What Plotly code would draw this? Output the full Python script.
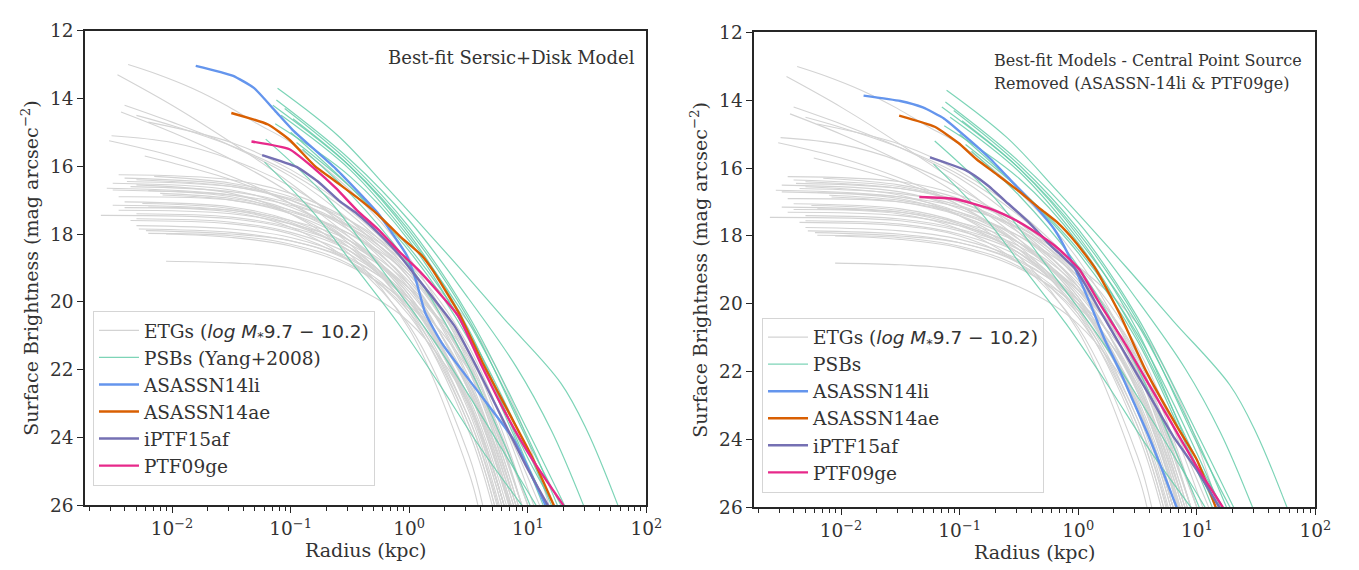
import plotly.graph_objects as go

# ---------------- data (x = log10 radius [kpc], y = surface brightness [mag arcsec^-2]) -------------
ETG_PROFILES = [
    [(-2.37, 13.0), (-2.13, 13.28), (-1.83, 13.7), (-1.53, 14.23), (-1.28, 14.75), (-1.0, 15.3), (-0.5, 16.7), (0.0, 18.7), (0.5, 21.8), (0.95, 26.0)],
    [(-2.46, 13.3), (-2.0, 14.2), (-1.5, 15.3), (-1.0, 16.5), (-0.5, 17.9), (0.0, 19.6), (0.5, 22.5), (0.85, 26.0)],
    [(-2.40, 14.2), (-2.0, 14.7), (-1.5, 15.4), (-1.0, 16.3), (-0.5, 17.6), (0.0, 19.3), (0.5, 22.3), (0.88, 26.0)],
    [(-2.43, 14.4), (-2.0, 15.0), (-1.5, 15.8), (-1.0, 16.8), (-0.5, 18.1), (0.0, 19.9), (0.5, 23.0), (0.80, 26.0)],
    [(-2.30, 14.5), (-2.0, 14.8), (-1.5, 15.4), (-1.0, 16.2), (-0.5, 17.4), (0.0, 19.1), (0.5, 21.9), (0.92, 26.0)],
    [(-2.20, 14.7), (-1.5, 15.3), (-1.0, 16.1), (-0.5, 17.3), (0.0, 19.0), (0.5, 21.7), (0.95, 26.0)],
    [(-2.51, 15.1), (-2.0, 15.3), (-1.5, 15.8), (-1.0, 16.6), (-0.5, 17.8), (0.0, 19.5), (0.5, 22.6), (0.85, 26.0)],
    [(-2.53, 15.25), (-2.0, 15.7), (-1.5, 16.3), (-1.0, 17.1), (-0.5, 18.3), (0.0, 20.1), (0.5, 23.4), (0.74, 26.0)],
    [(-2.23, 15.7), (-2.0, 15.9), (-1.5, 16.4), (-1.0, 17.1), (-0.5, 18.2), (0.0, 19.8), (0.5, 22.9), (0.80, 26.0)],
    [(-2.45, 16.25), (-1.5, 16.4), (-1.0, 16.8), (-0.5, 17.6), (0.0, 19.1), (0.5, 22.0), (0.90, 26.0)],
    [(-2.15, 16.3), (-1.5, 16.5), (-1.0, 16.9), (-0.5, 17.7), (0.0, 19.2), (0.5, 21.9), (0.92, 26.0)],
    [(-2.40, 16.35), (-1.5, 16.55), (-1.0, 17.0), (-0.5, 17.9), (0.0, 19.5), (0.5, 22.6), (0.84, 26.0)],
    [(-2.30, 16.4), (-1.5, 16.6), (-1.0, 17.0), (-0.5, 17.8), (0.0, 19.3), (0.5, 22.2), (0.88, 26.0)],
    [(-2.38, 16.45), (-1.5, 16.6), (-1.0, 16.95), (-0.5, 17.6), (0.0, 18.9), (0.5, 21.3), (1.05, 26.0)],
    [(-2.50, 16.5), (-1.5, 16.7), (-1.0, 17.2), (-0.5, 18.1), (0.0, 19.8), (0.5, 23.0), (0.78, 26.0)],
    [(-2.30, 16.55), (-1.5, 16.8), (-1.0, 17.4), (-0.5, 18.6), (0.0, 20.8), (0.5, 25.0), (0.58, 26.0)],
    [(-2.35, 16.6), (-1.5, 16.75), (-1.0, 17.1), (-0.5, 17.8), (0.0, 19.1), (0.5, 21.6), (0.95, 26.0)],
    [(-2.55, 16.65), (-1.5, 16.85), (-1.0, 17.3), (-0.5, 18.2), (0.0, 19.9), (0.5, 23.2), (0.76, 26.0)],
    [(-2.50, 16.7), (-1.5, 16.9), (-1.0, 17.4), (-0.5, 18.4), (0.0, 20.3), (0.5, 23.8), (0.70, 26.0)],
    [(-2.20, 16.72), (-1.5, 16.85), (-1.0, 17.15), (-0.5, 17.75), (0.0, 18.9), (0.5, 20.6), (0.9, 23.2), (1.18, 26.0)],
    [(-2.10, 16.8), (-1.5, 16.95), (-1.0, 17.3), (-0.5, 18.0), (0.0, 19.4), (0.5, 22.0), (0.90, 26.0)],
    [(-2.08, 16.85), (-1.5, 17.0), (-1.0, 17.4), (-0.5, 18.2), (0.0, 19.7), (0.5, 22.4), (0.86, 26.0)],
    [(-2.45, 16.9), (-1.5, 17.0), (-1.0, 17.35), (-0.5, 18.0), (0.0, 19.2), (0.5, 21.5), (1.00, 26.0)],
    [(-2.40, 17.05), (-1.5, 17.2), (-1.0, 17.6), (-0.5, 18.4), (0.0, 20.0), (0.5, 23.1), (0.78, 26.0)],
    [(-2.25, 17.1), (-1.5, 17.25), (-1.0, 17.65), (-0.5, 18.5), (0.0, 20.2), (0.5, 23.6), (0.72, 26.0)],
    [(-2.50, 17.15), (-1.5, 17.3), (-1.0, 17.7), (-0.5, 18.5), (0.0, 20.0), (0.5, 22.8), (0.82, 26.0)],
    [(-2.20, 17.2), (-1.5, 17.3), (-1.0, 17.6), (-0.5, 18.2), (0.0, 19.5), (0.5, 21.9), (0.95, 26.0)],
    [(-2.40, 17.22), (-1.5, 17.35), (-1.0, 17.8), (-0.5, 18.8), (0.0, 20.7), (0.5, 24.5), (0.62, 26.0)],
    [(-2.45, 17.3), (-1.5, 17.4), (-1.0, 17.7), (-0.5, 18.3), (0.0, 19.6), (0.5, 21.8), (1.00, 26.0)],
    [(-2.30, 17.4), (-1.5, 17.5), (-1.0, 17.8), (-0.5, 18.4), (0.0, 19.6), (0.5, 21.6), (1.10, 26.0)],
    [(-2.60, 17.45), (-1.5, 17.55), (-1.0, 17.85), (-0.5, 18.5), (0.0, 19.9), (0.5, 22.6), (0.84, 26.0)],
    [(-2.30, 17.55), (-1.5, 17.65), (-1.0, 17.95), (-0.5, 18.6), (0.0, 20.0), (0.5, 22.9), (0.80, 26.0)],
    [(-2.35, 17.6), (-1.5, 17.7), (-1.0, 18.0), (-0.5, 18.8), (0.0, 20.4), (0.5, 23.6), (0.72, 26.0)],
    [(-2.30, 17.75), (-1.5, 17.85), (-1.0, 18.1), (-0.5, 18.7), (0.0, 20.0), (0.5, 22.5), (0.86, 26.0)],
    [(-2.28, 17.85), (-1.5, 17.95), (-1.0, 18.2), (-0.5, 18.8), (0.0, 20.2), (0.5, 23.0), (0.80, 26.0)],
    [(-2.22, 17.9), (-1.5, 18.0), (-1.0, 18.2), (-0.5, 18.75), (0.0, 19.9), (0.5, 22.0), (1.00, 26.0)],
    [(-2.20, 17.98), (-1.5, 18.05), (-1.0, 18.3), (-0.5, 18.9), (0.0, 20.3), (0.5, 23.4), (0.75, 26.0)],
    [(-2.05, 18.0), (-1.5, 18.1), (-1.0, 18.35), (-0.5, 18.95), (0.0, 20.1), (0.5, 22.4), (0.90, 26.0)],
    [(-2.05, 18.8), (-1.5, 18.85), (-1.0, 19.0), (-0.5, 19.5), (0.0, 20.6), (0.5, 23.0), (0.80, 26.0)],
]

PSB_PROFILES = [
    [(-1.11, 13.70), (-0.6, 15.1), (-0.17, 16.7), (0.4, 18.9), (0.8, 20.5), (1.28, 22.4), (1.5, 23.8), (1.76, 26.0)],
    [(-1.12, 14.05), (-0.5, 15.8), (0.0, 17.6), (0.5, 19.9), (0.9, 21.9), (1.2, 23.8), (1.47, 26.0)],
    [(-1.05, 14.30), (-0.5, 15.9), (0.0, 17.8), (0.5, 20.4), (1.0, 23.8), (1.31, 26.0)],
    [(-1.15, 14.20), (-0.5, 16.0), (0.0, 17.9), (0.5, 20.5), (1.0, 24.1), (1.28, 26.0)],
    [(-1.08, 14.50), (-0.5, 16.1), (0.0, 18.1), (0.5, 20.6), (1.0, 24.0), (1.25, 26.0)],
    [(-0.98, 14.60), (-0.5, 16.0), (0.0, 18.0), (0.5, 20.8), (1.0, 24.8), (1.16, 26.0)],
    [(-1.13, 14.75), (-0.5, 16.3), (0.0, 18.2), (0.5, 21.0), (1.0, 24.6), (1.22, 26.0)],
    [(-1.00, 15.00), (-0.5, 16.6), (0.0, 18.5), (0.5, 21.1), (1.0, 24.9), (1.13, 26.0)],
    [(-0.95, 15.30), (-0.5, 16.6), (0.0, 18.4), (0.5, 20.9), (1.0, 24.4), (1.20, 26.0)],
    [(-0.90, 15.50), (-0.5, 16.8), (0.0, 18.9), (0.5, 21.9), (1.02, 26.0)],
    [(-1.21, 15.20), (-0.7, 16.9), (-0.23, 19.05), (0.2, 21.1), (0.6, 23.3), (1.07, 26.0)],
    [(-1.22, 15.88), (-0.8, 17.4), (-0.45, 19.0), (-0.1, 20.6), (0.25, 22.4), (0.6, 24.3), (0.95, 26.0)],
]

# left panel: Sersic+Disk best fits
L_14LI = [(-1.80, 13.04), (-1.49, 13.33), (-1.31, 13.69), (-1.13, 14.37), (-0.98, 14.94), (-0.62, 16.07),
          (-0.26, 17.40), (-0.11, 18.15), (-0.02, 18.63), (0.06, 19.4), (0.135, 20.32), (0.285, 21.27),
          (0.59, 22.69), (0.89, 24.11), (1.15, 26.0)]
L_14AE = [(-1.50, 14.43), (-1.19, 14.77), (-1.01, 15.22), (-0.80, 15.98), (-0.62, 16.45), (-0.44, 16.92),
          (-0.26, 17.44), (-0.08, 18.06), (0.105, 18.63), (0.195, 19.05), (0.43, 20.4), (0.62, 21.8),
          (0.83, 23.2), (1.04, 24.6), (1.22, 26.0)]
L_15AF = [(-1.24, 15.67), (-0.95, 16.02), (-0.77, 16.45), (-0.59, 17.02), (-0.44, 17.40), (-0.26, 17.97),
          (-0.08, 18.63), (0.014, 19.05), (0.38, 20.7), (0.58, 22.0), (0.78, 23.4), (0.98, 24.8), (1.17, 26.0)]
L_09GE = [(-1.33, 15.27), (-1.01, 15.50), (-0.80, 16.07), (-0.62, 16.64), (-0.44, 17.30), (-0.26, 17.87),
          (-0.08, 18.53), (0.075, 19.05), (0.41, 20.4), (0.60, 21.8), (0.80, 23.2), (1.03, 24.6), (1.30, 26.0)]

# right panel: central point source removed
R_14LI = [(-1.81, 13.86), (-1.50, 14.02), (-1.31, 14.21), (-1.13, 14.54), (-0.92, 15.16), (-0.74, 15.73),
          (-0.56, 16.39), (-0.38, 17.05), (-0.20, 17.81), (-0.08, 18.57), (0.10, 19.99), (0.22, 21.03),
          (0.35, 21.97), (0.47, 22.92), (0.59, 23.87), (0.71, 24.91), (0.83, 26.0)]
R_14AE = [(-1.51, 14.45), (-1.21, 14.78), (-1.01, 15.26), (-0.86, 15.73), (-0.68, 16.20), (-0.50, 16.68),
          (-0.32, 17.20), (-0.17, 17.62), (-0.02, 18.19), (0.15, 18.99), (0.35, 20.3), (0.57, 21.97),
          (0.83, 23.6), (1.0, 24.6), (1.16, 26.0)]
R_15AF = [(-1.25, 15.68), (-0.95, 16.06), (-0.77, 16.49), (-0.59, 17.05), (-0.41, 17.62), (-0.23, 18.29),
          (-0.02, 18.99), (0.2, 20.3), (0.4, 21.5), (0.6, 22.7), (0.8, 23.9), (1.0, 24.9), (1.19, 26.0)]
R_09GE = [(-1.34, 16.85), (-1.04, 16.91), (-0.74, 17.20), (-0.53, 17.53), (-0.35, 17.91), (-0.20, 18.28),
          (-0.08, 18.66), (0.01, 18.99), (0.2, 20.1), (0.4, 21.2), (0.6, 22.4), (0.8, 23.6), (1.0, 24.8), (1.22, 26.0)]

SERIES_NAMES = ["ASASSN14li", "ASASSN14ae", "iPTF15af", "PTF09ge"]
SERIES_COLORS = ["#6495ED", "#D95F02", "#7570B3", "#E7298A"]
LEFT_SERIES = [L_14LI, L_14AE, L_15AF, L_09GE]
RIGHT_SERIES = [R_14LI, R_14AE, R_15AF, R_09GE]

ETG_NAME = 'ETGs (<span style="font-family:DejaVu Sans"><i>log M</i><sub>*</sub>9.7 − 10.2</span>)'
PSB_NAMES = ["PSBs (Yang+2008)", "PSBs"]
PANEL_TEXTS = [["Best-fit Sersic+Disk Model"],
               ["Best-fit Models - Central Point Source", "Removed (ASASSN-14li & PTF09ge)"]]
TICK_VALS = [0.01, 0.1, 1, 10, 100]
TICK_TEXT = ["10<sup>−2</sup>", "10<sup>−1</sup>", "10<sup>0</sup>", "10<sup>1</sup>", "10<sup>2</sup>"]

ETG_COLOR = "#D3D3D3"
PSB_COLOR = "rgba(102,205,170,0.85)"
FONT = "DejaVu Serif"
INK = "#262626"
TXT = "#333333"

fig = go.Figure()


def add_profile(pts, xa, ya, color, width, name, legend, show, smoothing):
    fig.add_trace(go.Scatter(
        x=[10 ** p[0] for p in pts], y=[p[1] for p in pts], mode="lines",
        line=dict(color=color, width=width, shape="spline", smoothing=smoothing),
        name=name, legend=legend, showlegend=show, xaxis=xa, yaxis=ya, hoverinfo="skip"))


for k, (xa, ya, lg, series) in enumerate([("x", "y", "legend", LEFT_SERIES),
                                           ("x2", "y2", "legend2", RIGHT_SERIES)]):
    for i, prof in enumerate(ETG_PROFILES):
        add_profile(prof, xa, ya, ETG_COLOR, 1.1, ETG_NAME, lg, i == 0, 1.0)
    for i, prof in enumerate(PSB_PROFILES):
        add_profile(prof, xa, ya, PSB_COLOR, 1.2, PSB_NAMES[k], lg, i == 0, 1.0)
    for name, color, prof in zip(SERIES_NAMES, SERIES_COLORS, series):
        add_profile(prof, xa, ya, color, 2.4, name, lg, True, 0.5)

W, H = 1359, 570
xdom_l = [78 / W, 646 / W]
xdom_r = [755 / W, 1323 / W]
ydom_l = [(H - 505) / H, (H - 12) / H]
ydom_r = [(H - 507) / H, (H - 14) / H]

axis_common = dict(showline=True, linewidth=1.5, linecolor=INK, mirror=True, ticks="outside",
                   ticklen=6, tickwidth=1.3, tickcolor=INK, showgrid=False, zeroline=False,
                   tickfont=dict(family=FONT, size=18.5, color=TXT))

xcommon = dict(axis_common, type="log", range=[-2.733, 2.0], tickvals=TICK_VALS, ticktext=TICK_TEXT,
               minor=dict(ticks="outside", ticklen=3.5, tickwidth=1, tickcolor=INK,
                          tickvals=[m * d for d in [0.001, 0.01, 0.1, 1, 10] for m in range(2, 10)]),
               title=dict(text="Radius (kpc)", font=dict(family=FONT, size=19, color=TXT), standoff=4))
ycommon = dict(axis_common, range=[26, 12], tickvals=[12, 14, 16, 18, 20, 22, 24, 26],
               title=dict(text="Surface Brightness (mag arcsec<sup>−2</sup>)",
                          font=dict(family=FONT, size=19, color=TXT), standoff=6))

legend_common = dict(font=dict(family=FONT, size=18.5, color=TXT), bgcolor="rgba(255,255,255,0.85)",
                     bordercolor="#D5D5D5", borderwidth=1, xanchor="left", yanchor="top",
                     tracegroupgap=0, itemwidth=40)

fig.update_layout(
    width=W, height=H, margin=dict(l=0, r=0, t=0, b=0),
    paper_bgcolor="white", plot_bgcolor="white", showlegend=True,
    xaxis=dict(xcommon, domain=xdom_l, anchor="y"),
    yaxis=dict(ycommon, domain=ydom_l, anchor="x"),
    xaxis2=dict(xcommon, domain=xdom_r, anchor="y2"),
    yaxis2=dict(ycommon, domain=ydom_r, anchor="x2"),
    legend=dict(legend_common, x=86 / W, y=(H - 303) / H),
    legend2=dict(legend_common, x=763 / W, y=(H - 310) / H),
    annotations=[
        dict(text=PANEL_TEXTS[0][0], xref="paper", yref="paper", x=636 / W, y=(H - 40) / H,
             xanchor="right", yanchor="middle", showarrow=False,
             font=dict(family=FONT, size=18, color=TXT)),
        dict(text=PANEL_TEXTS[1][0], xref="paper", yref="paper", x=996 / W, y=(H - 43) / H,
             xanchor="left", yanchor="middle", showarrow=False,
             font=dict(family=FONT, size=16, color=TXT)),
        dict(text=PANEL_TEXTS[1][1], xref="paper", yref="paper", x=996 / W, y=(H - 67) / H,
             xanchor="left", yanchor="middle", showarrow=False,
             font=dict(family=FONT, size=16, color=TXT)),
    ],
)

fig.write_html("out.html")
